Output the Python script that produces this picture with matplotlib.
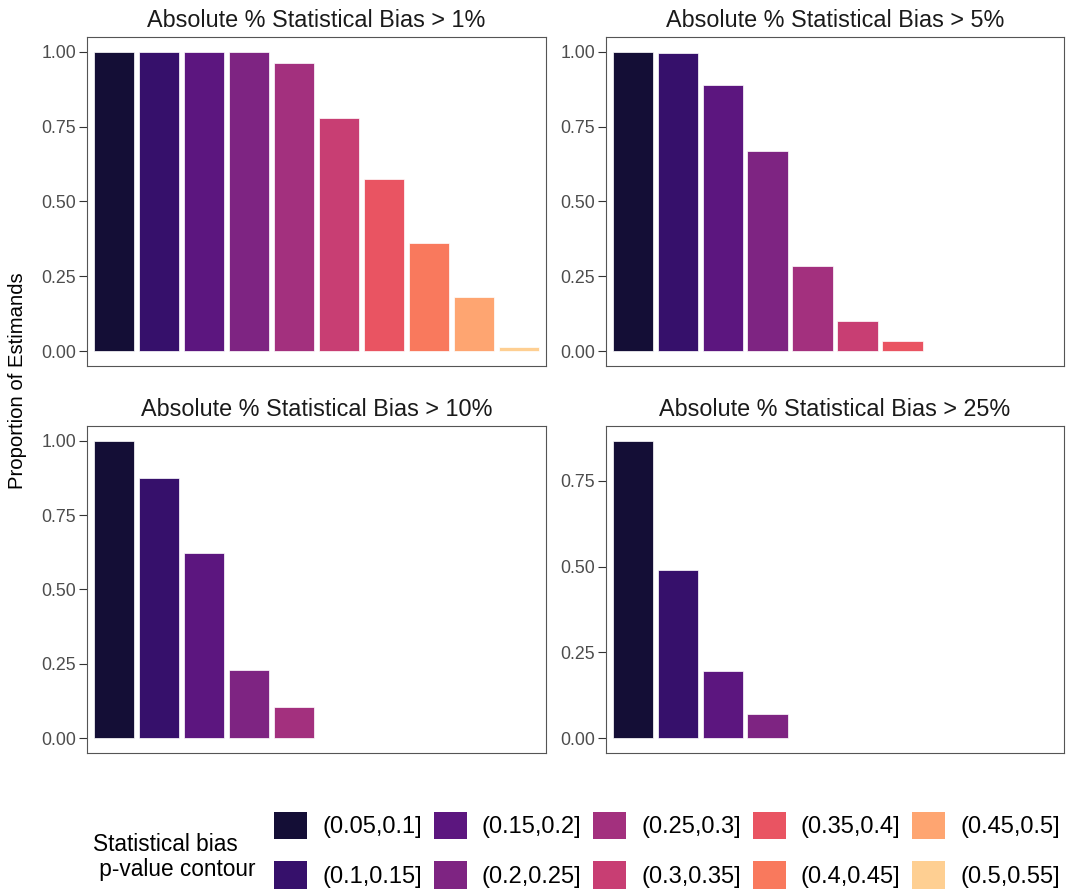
import numpy as np
import matplotlib.pyplot as plt
from matplotlib.patches import Patch

plt.rcParams['font.family'] = ['Liberation Sans', 'DejaVu Sans']

# p-value contour bins (fill levels)
CONTOURS = ['(0.05,0.1]', '(0.1,0.15]', '(0.15,0.2]', '(0.2,0.25]', '(0.25,0.3]',
            '(0.3,0.35]', '(0.35,0.4]', '(0.4,0.45]', '(0.45,0.5]', '(0.5,0.55]']

# facet labels
THRESHOLDS = ['1%', '5%', '10%', '25%']

# proportion of estimands above each bias threshold, per contour bin
bias_1 = [1.0, 1.0, 1.0, 1.0, 0.963, 0.779, 0.574, 0.360, 0.182, 0.012]
bias_5 = [1.0, 0.998, 0.891, 0.669, 0.285, 0.099, 0.034]
bias_10 = [1.0, 0.875, 0.623, 0.230, 0.105]
bias_25 = [0.866, 0.489, 0.196, 0.069]

W, H = 1068, 894


def main():
    colors = plt.cm.magma(np.linspace(0.1, 0.9, len(CONTOURS)))

    fig = plt.figure(figsize=(W / 100, H / 100), dpi=100)

    # panel boxes in pixels: left, top, right, bottom
    boxes = [(87, 37, 546, 366), (606, 37, 1064, 366),
             (87, 426, 546, 753), (606, 426, 1064, 753)]
    series = [bias_1, bias_5, bias_10, bias_25]

    for (l, t, r, b), vals, thr in zip(boxes, series, THRESHOLDS):
        ax = fig.add_axes([l / W, 1 - b / H, (r - l) / W, (b - t) / H])
        x = np.arange(1, len(vals) + 1)
        ax.bar(x, vals, width=0.9, color=colors[:len(vals)],
               edgecolor='white', linewidth=0.5)

        ax.set_xlim(0.4, len(CONTOURS) + 0.6)
        top = max(vals)
        ax.set_ylim(-0.05 * top, 1.05 * top)
        ax.set_yticks([v for v in [0, 0.25, 0.5, 0.75, 1.0] if v <= top + 1e-9])
        ax.yaxis.set_major_formatter(plt.FuncFormatter(lambda v, p: '%.2f' % v))
        ax.set_xticks([])

        ax.tick_params(axis='y', length=6, width=0.8, color='#333333',
                       labelsize=12.8, labelcolor='#4D4D4D', pad=2)
        for sp in ax.spines.values():
            sp.set_color('#555555')
            sp.set_linewidth(0.8)

        ax.set_title('Absolute % Statistical Bias > ' + thr,
                     fontsize=16.8, color='#1A1A1A', pad=7)

    fig.text(18 / W, 1 - 381 / H, 'Proportion of Estimands', rotation=90,
             ha='center', va='center', fontsize=14.6, color='black')

    handles = [Patch(facecolor=c, edgecolor='none') for c in colors]
    fig.legend(handles, CONTOURS, ncol=5, loc='upper left',
               bbox_to_anchor=(274 / W, 1 - 812 / H), frameon=False,
               fontsize=17, handlelength=1.40, handleheight=1.40,
               handletextpad=0.64, labelspacing=0.94, columnspacing=0.5,
               borderpad=0, borderaxespad=0)

    fig.text(93 / W, 1 - 857 / H, 'Statistical bias\n p-value contour',
             ha='left', va='center', fontsize=16.3, linespacing=1.1)

    plt.savefig('out.png', dpi=100)


if __name__ == '__main__':
    main()
